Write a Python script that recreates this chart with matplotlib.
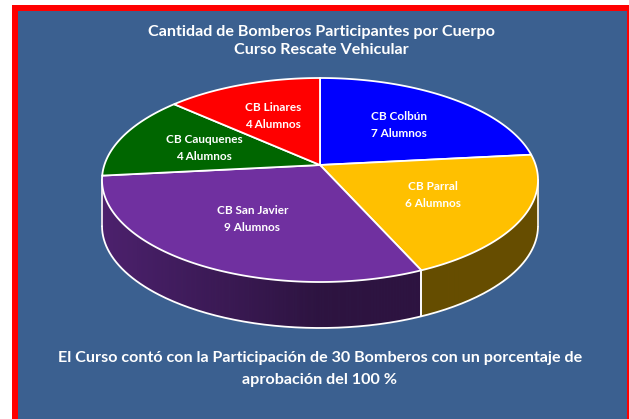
import numpy as np
import matplotlib
matplotlib.use("Agg")
import matplotlib.pyplot as plt
from matplotlib.patches import Rectangle
from matplotlib import colors as mcolors

plt.rcParams['font.family'] = ['Lato', 'DejaVu Sans']

# data
cuerpos = ["CB Colbún", "CB Parral", "CB San Javier", "CB Cauquenes", "CB Linares"]
alumnos = [7, 6, 9, 4, 4]
colores = ["#0000FF", "#FFC000", "#7030A0", "#006600", "#FF0000"]
titulo = ["Cantidad de Bomberos Participantes por Cuerpo", "Curso Rescate Vehicular"]
nota = ["El Curso contó con la Participación de {} Bomberos con un porcentaje de".format(sum(alumnos)),
        "aprobación del 100 %"]

W, H = 629, 419
fig = plt.figure(figsize=(W / 100, H / 100), dpi=100)
fig.patch.set_facecolor("white")

ax = fig.add_axes([0, 0, 1, 1])
ax.set_xlim(0, W)
ax.set_ylim(H, 0)
ax.axis("off")
ax.add_patch(Rectangle((12, 5), 700, 500, facecolor="#FF0000", edgecolor="none"))
ax.add_patch(Rectangle((18, 11), 609, 500, facecolor="#3B6090", edgecolor="none"))

for i, linea in enumerate(titulo):
    ax.text(321, 32 + 18 * i, linea, color="white", fontsize=11.6, fontweight="bold",
            ha="center", va="center")
for i, linea in enumerate(nota):
    ax.text(320, 358 + 22 * i, linea, color="white", fontsize=11.6, fontweight="bold",
            ha="center", va="center")

# 3D pie: tilted disc seen in perspective
cx, cy, rx, ry, depth = 320, 180, 218, 102, 46
k = 0.147
yc = -k / (1 - k ** 2)
a_ax = 1 / np.sqrt(1 - k ** 2)
b_ax = 1 / (1 - k ** 2)


def proyectar(r, phi):
    X, Z = r * np.cos(phi), r * np.sin(phi)
    w = 1 + k * Z
    px, py = X / w, Z / w
    return cx + rx * px / a_ax, cy - ry * (py - yc) / b_ax


total = sum(alumnos)
bordes = np.radians(90 - 360 * np.concatenate([[0], np.cumsum(alumnos)]) / total)

# side wall
for j, c in enumerate(colores):
    t = np.linspace(bordes[j], bordes[j + 1], 300)
    x, y = proyectar(1, t)
    vis = y >= cy
    if vis.sum() < 2:
        continue
    x, y = x[vis], y[vis]
    base = np.array(mcolors.to_rgb(c))
    for i in range(len(x) - 1):
        f = 0.40 + 0.28 * max(0, -(x[i] - cx) / rx)
        ax.fill([x[i], x[i + 1], x[i + 1], x[i]], [y[i], y[i + 1], y[i + 1] + depth, y[i] + depth],
                color=base * f, lw=0.6, zorder=2)
    for e in (0, -1):
        ax.plot([x[e], x[e]], [y[e], y[e] + depth], color="white", lw=1.2, zorder=3)

tt = np.linspace(0, 2 * np.pi, 600)
xr, yr = proyectar(1, tt)
low = yr >= cy
orden = np.argsort(xr[low])
ax.plot(xr[low][orden], yr[low][orden] + depth, color="white", lw=1.3, zorder=3)

# top face
for j, c in enumerate(colores):
    t = np.linspace(bordes[j], bordes[j + 1], 200)
    x, y = proyectar(1, t)
    x0, y0 = proyectar(0, 0)
    ax.fill(np.r_[x0, x], np.r_[y0, y], facecolor=c, edgecolor="white", lw=1.3, zorder=5)

# labels
for j, (nombre, n) in enumerate(zip(cuerpos, alumnos)):
    lx, ly = proyectar(0.58, (bordes[j] + bordes[j + 1]) / 2)
    ax.text(lx, ly - 8.5, nombre, color="white", fontsize=8.5, fontweight="bold",
            ha="center", va="center", zorder=6)
    ax.text(lx, ly + 8.5, "{} Alumnos".format(n), color="white", fontsize=8.5,
            fontweight="bold", ha="center", va="center", zorder=6)

fig.savefig("out.png", dpi=100, facecolor=fig.get_facecolor())
